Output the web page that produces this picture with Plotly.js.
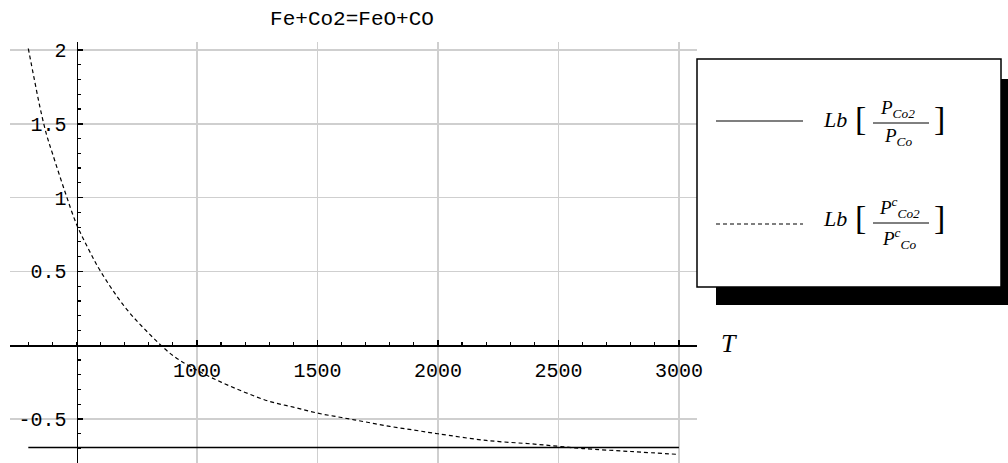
<!DOCTYPE html>
<html>
<head>
<meta charset="utf-8">
<script src="https://cdn.plot.ly/plotly-3.0.1.min.js"></script>
<style>html,body{margin:0;padding:0;background:#fff;}#chart{width:1008px;height:463px;}</style>
</head>
<body>
<div id="chart"></div>
<script>
// ---- data ----
const chartTitle = 'Fe+Co2=FeO+CO';
const xLabel = 'T';
const tempSolid = [300, 3000];
const lnRatio = [-0.693, -0.693];
const tempDashed = [300, 325, 350, 375, 400, 450, 500, 550, 600, 700, 800, 900, 1000, 1100, 1200, 1300, 1400, 1500, 1600, 1700, 1800, 1900, 2000, 2200, 2400, 2500, 2600, 2800, 3000];
const lnRatioC = [2.01, 1.80, 1.60, 1.43, 1.30, 1.05, 0.82, 0.65, 0.50, 0.26, 0.08, -0.07, -0.17, -0.25, -0.32, -0.38, -0.42, -0.46, -0.49, -0.52, -0.55, -0.575, -0.60, -0.645, -0.67, -0.685, -0.70, -0.72, -0.74];
const xTickVals = [1000, 1500, 2000, 2500, 3000];
const xTickText = ['1000', '1500', '2000', '2500', '3000'];
const yTickVals = [-0.5, 0.5, 1, 1.5, 2];
const yTickText = ['-0.5', '0.5', '1', '1.5', '2'];
const seriesNames = ['Lb[P_Co2/P_Co]', 'Lb[P^c_Co2/P^c_Co]'];

// ---- layout geometry ----
const W = 1008, H = 463;
const M = {l: 10, r: 311, t: 42, b: 0};
const plotW = W - M.l - M.r, plotH = H - M.t - M.b;
const xRange = [224, 3075];
const yRange = [-0.798, 2.054];
const yAxisAt = 500, xAxisAt = 0;
const px = x => (x - M.l) / plotW;
const py = y => (H - M.b - y) / plotH;

const mono = 'Liberation Mono';
const serif = 'Liberation Serif';

const traces = [
  {x: tempSolid, y: lnRatio, type: 'scatter', mode: 'lines', name: seriesNames[0],
   line: {color: '#000', width: 1.5}, hoverinfo: 'skip'},
  {x: tempDashed, y: lnRatioC, type: 'scatter', mode: 'lines', name: seriesNames[1],
   line: {color: '#000', width: 1.2, dash: '4px,3px', shape: 'spline'}, hoverinfo: 'skip'}
];

const shapes = [
  {type: 'rect', xref: 'paper', yref: 'paper', x0: px(716), x1: px(1010), y0: py(305), y1: py(79),
   fillcolor: '#000', line: {width: 0}},
  {type: 'rect', xref: 'paper', yref: 'paper', x0: px(697), x1: px(1001), y0: py(287), y1: py(59),
   fillcolor: '#fff', line: {color: '#000', width: 1.5}},
  {type: 'line', xref: 'paper', yref: 'paper', x0: px(716), x1: px(803), y0: py(121), y1: py(121),
   line: {color: '#000', width: 1.2}},
  {type: 'line', xref: 'paper', yref: 'paper', x0: px(716), x1: px(803), y0: py(224), y1: py(224),
   line: {color: '#000', width: 1.2, dash: '4px,3px'}},
  {type: 'line', xref: 'paper', yref: 'paper', x0: px(873), x1: px(929), y0: py(123), y1: py(123),
   line: {color: '#000', width: 1}},
  {type: 'line', xref: 'paper', yref: 'paper', x0: px(873), x1: px(929), y0: py(223), y1: py(223),
   line: {color: '#000', width: 1}}
];

function ann(x, y, text, size, family, extra) {
  return Object.assign({xref: 'paper', yref: 'paper', x: px(x), y: py(y), text: text, showarrow: false,
    xanchor: 'center', yanchor: 'middle', font: {family: family, size: size, color: '#000'}}, extra || {});
}

const annotations = [
  ann(729, 343, '<i>' + xLabel + '</i>', 26, serif),
  // entry 1
  ann(835, 119, '<i>Lb</i>', 22, serif),
  ann(860, 118, '[', 34, serif),
  ann(898, 109, '<i>P<sub>Co2</sub></i>', 19, serif),
  ann(898, 137, '<i>P<sub>Co</sub></i>', 19, serif),
  ann(939, 118, ']', 34, serif),
  // entry 2
  ann(835, 219, '<i>Lb</i>', 22, serif),
  ann(860, 218, '[', 34, serif),
  ann(899, 207, '<i>P<sup>c</sup><sub>Co2</sub></i>', 19, serif),
  ann(899, 238, '<i>P<sup>c</sup><sub>Co</sub></i>', 19, serif),
  ann(939, 218, ']', 34, serif)
];

const layout = {
  width: W, height: H,
  margin: Object.assign({autoexpand: false, pad: 0}, M),
  paper_bgcolor: '#fff', plot_bgcolor: '#fff',
  showlegend: false,
  title: {text: chartTitle, font: {family: mono, size: 21, color: '#000'},
          xref: 'container', x: 352 / W, xanchor: 'center',
          yref: 'container', y: 1 - 18 / H, yanchor: 'middle'},
  xaxis: {
    range: xRange, anchor: 'free', position: (xAxisAt - yRange[0]) / (yRange[1] - yRange[0]),
    showline: true, linecolor: '#000', linewidth: 1.5,
    showgrid: true, gridcolor: '#cfcfcf', gridwidth: 1.5, zeroline: false,
    tickmode: 'array', tickvals: xTickVals, ticktext: xTickText,
    ticks: 'inside', ticklen: 5, tickwidth: 1.5, tickcolor: '#000',
    ticklabelstandoff: 6,
    tickfont: {family: mono, size: 20, color: '#000'},
    minor: {tickmode: 'linear', tick0: 0, dtick: 100, ticks: 'inside', ticklen: 3, tickwidth: 1.2, tickcolor: '#000', showgrid: false}
  },
  yaxis: {
    range: yRange, anchor: 'free', position: (yAxisAt - xRange[0]) / (xRange[1] - xRange[0]),
    showline: true, linecolor: '#000', linewidth: 1.5,
    showgrid: true, gridcolor: '#cfcfcf', gridwidth: 1.5, zeroline: false,
    tickmode: 'array', tickvals: yTickVals, ticktext: yTickText,
    ticks: 'inside', ticklen: 5, tickwidth: 1.5, tickcolor: '#000',
    ticklabelstandoff: 6,
    tickfont: {family: mono, size: 20, color: '#000'},
    minor: {tickmode: 'linear', tick0: 0, dtick: 0.1, ticks: 'inside', ticklen: 3, tickwidth: 1.2, tickcolor: '#000', showgrid: false}
  },
  shapes: shapes,
  annotations: annotations
};

Plotly.newPlot('chart', traces, layout, {staticPlot: true, displayModeBar: false});
</script>
</body>
</html>
